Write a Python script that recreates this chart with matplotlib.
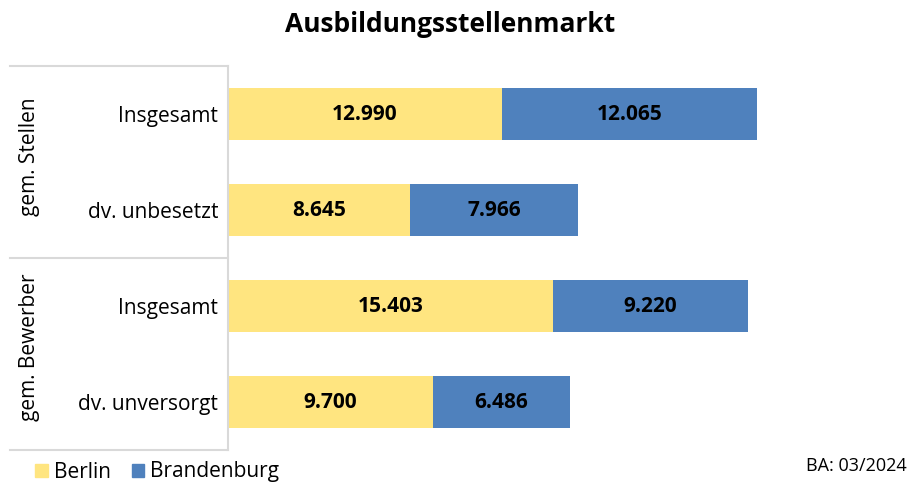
import matplotlib
matplotlib.use("Agg")
import matplotlib.pyplot as plt
from matplotlib.lines import Line2D
from matplotlib.patches import Patch

plt.rcParams['font.family'] = ['Open Sans', 'DejaVu Sans']

# ---------- data ----------
categories = ["Insgesamt", "dv. unbesetzt", "Insgesamt", "dv. unversorgt"]
groups = ["gem. Stellen", "gem. Bewerber"]
berlin = [12990, 8645, 15403, 9700]
brandenburg = [12065, 7966, 9220, 6486]
series_names = ["Berlin", "Brandenburg"]
source_note = "BA: 03/2024"

c_berlin = "#FFE580"
c_brb = "#4F81BD"
c_line = "#D9D9D9"

W, H = 910, 484
fig = plt.figure(figsize=(W / 100, H / 100), dpi=100)

# axes box in pixel terms (left, top, right, bottom)
L, T, R, B = 228, 66, 861, 450
ax = fig.add_axes([L / W, 1 - B / H, (R - L) / W, (B - T) / H])

pos = list(range(len(categories)))
b1 = ax.barh(pos, berlin, height=0.55, color=c_berlin)
b2 = ax.barh(pos, brandenburg, left=berlin, height=0.55, color=c_brb)

def fmt(v):
    return f"{v:,}".replace(",", ".")

ax.bar_label(b1, labels=[fmt(v) for v in berlin], label_type="center",
             fontsize=15, fontweight="bold", color="black")
ax.bar_label(b2, labels=[fmt(v) for v in brandenburg], label_type="center",
             fontsize=15, fontweight="bold", color="black")

ax.set_xlim(0, 30000)
ax.set_ylim(3.5, -0.5)
ax.set_xticks([])
ax.set_yticks(pos, categories, fontsize=15)
ax.tick_params(axis="y", length=0, pad=7)
for s in ["top", "right", "bottom"]:
    ax.spines[s].set_visible(False)
ax.spines["left"].set_color(c_line)
ax.spines["left"].set_linewidth(1.5)

# group separators and labels on the left
def hline(y, x0=10, x1=L):
    fig.add_artist(Line2D([x0 / W, x1 / W], [1 - y / H, 1 - y / H],
                          color=c_line, lw=1.5, transform=fig.transFigure))

hline(T)
hline((T + B) / 2)
hline(B)

fig.text(30 / W, 1 - 157 / H, groups[0], rotation=90, fontsize=15,
         ha="center", va="center")
fig.text(30 / W, 1 - 347 / H, groups[1], rotation=90, fontsize=15,
         ha="center", va="center")

fig.suptitle("Ausbildungsstellenmarkt", x=0.495, y=1 - 25 / H, va="center",
             fontsize=19, fontweight="bold")

handles = [Patch(color=c_berlin), Patch(color=c_brb)]
fig.legend(handles, series_names, loc="center left",
           bbox_to_anchor=(35 / W, 1 - 472 / H), ncol=2, frameon=False,
           fontsize=15, handlelength=0.6, handleheight=0.6,
           handletextpad=0.3, columnspacing=1.0, borderpad=0, borderaxespad=0)

fig.text(907 / W, 1 - 466 / H, source_note, ha="right", va="center",
         fontsize=13)

fig.savefig("out.png", dpi=100)
